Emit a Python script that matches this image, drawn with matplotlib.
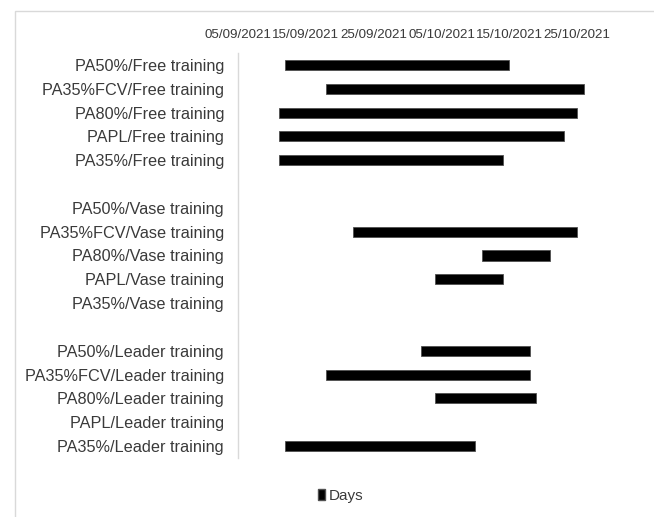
# gantt style chart of training periods

import matplotlib
matplotlib.use("Agg")
import matplotlib.pyplot as plt
import matplotlib.dates as mdates
from matplotlib.patches import Patch, Rectangle
import pandas as pd

# rows from top to bottom, empty strings are the gaps between groups
tasks = [
    "PA50%/Free training", "PA35%FCV/Free training", "PA80%/Free training",
    "PAPL/Free training", "PA35%/Free training", "",
    "PA50%/Vase training", "PA35%FCV/Vase training", "PA80%/Vase training",
    "PAPL/Vase training", "PA35%/Vase training", "",
    "PA50%/Leader training", "PA35%FCV/Leader training", "PA80%/Leader training",
    "PAPL/Leader training", "PA35%/Leader training",
]
start = [
    "2021-09-12", "2021-09-18", "2021-09-11", "2021-09-11", "2021-09-11", None,
    None, "2021-09-22", "2021-10-11", "2021-10-04", None, None,
    "2021-10-02", "2021-09-18", "2021-10-04", None, "2021-09-12",
]
end = [
    "2021-10-15", "2021-10-26", "2021-10-25", "2021-10-23", "2021-10-14", None,
    None, "2021-10-25", "2021-10-21", "2021-10-14", None, None,
    "2021-10-18", "2021-10-18", "2021-10-19", None, "2021-10-10",
]
tick_dates = ["2021-09-05", "2021-09-15", "2021-09-25", "2021-10-05", "2021-10-15", "2021-10-25"]
axis_min = "2021-09-05"
axis_max = "2021-11-04"

plt.rcParams['font.family'] = ['Liberation Sans', 'DejaVu Sans']
txt_col = '#3a3a3a'

fig = plt.figure(figsize=(6.54, 5.17), dpi=100)
ax = fig.add_axes([238/654, 1 - 458/517, (645 - 238)/654, (458 - 53)/517])

# chart area frame (cut off at right / bottom in the original)
fig.add_artist(Rectangle((15/654, -0.1), 1.0, 1 - 11/517 + 0.1, transform=fig.transFigure,
                         fill=False, edgecolor='#d9d9d9', linewidth=1.0))

for i, (s, e) in enumerate(zip(start, end)):
    if s is None:
        continue
    s0 = mdates.date2num(pd.Timestamp(s))
    e0 = mdates.date2num(pd.Timestamp(e))
    ax.barh(i, e0 - s0, left=s0, height=0.42, color='black', edgecolor='#505050', linewidth=0.6)

ax.set_ylim(len(tasks) - 0.5, -0.5)
ax.set_yticks(range(len(tasks)))
ax.set_yticklabels(tasks, fontsize=11.7, color=txt_col)
ax.set_xlim(mdates.date2num(pd.Timestamp(axis_min)), mdates.date2num(pd.Timestamp(axis_max)))
ax.set_xticks([mdates.date2num(pd.Timestamp(d)) for d in tick_dates])
ax.xaxis.set_major_formatter(mdates.DateFormatter('%d/%m/%Y'))
ax.xaxis.tick_top()
ax.tick_params(axis='x', length=0, pad=8.5, labelsize=9.6, labelcolor=txt_col)
ax.tick_params(axis='y', length=0, pad=10)

for sp in ['top', 'right', 'bottom']:
    ax.spines[sp].set_visible(False)
ax.spines['left'].set_color('#d9d9d9')
ax.spines['left'].set_linewidth(1.0)

fig.legend(handles=[Patch(facecolor='black', edgecolor='#505050', label='Days')],
           loc='center', bbox_to_anchor=(341/654, 1 - 496/517), frameon=False,
           handlelength=0.45, handleheight=0.75, handletextpad=0.25,
           prop={'size': 11}, labelcolor=txt_col)

plt.savefig("out.png", dpi=100)
plt.close()
